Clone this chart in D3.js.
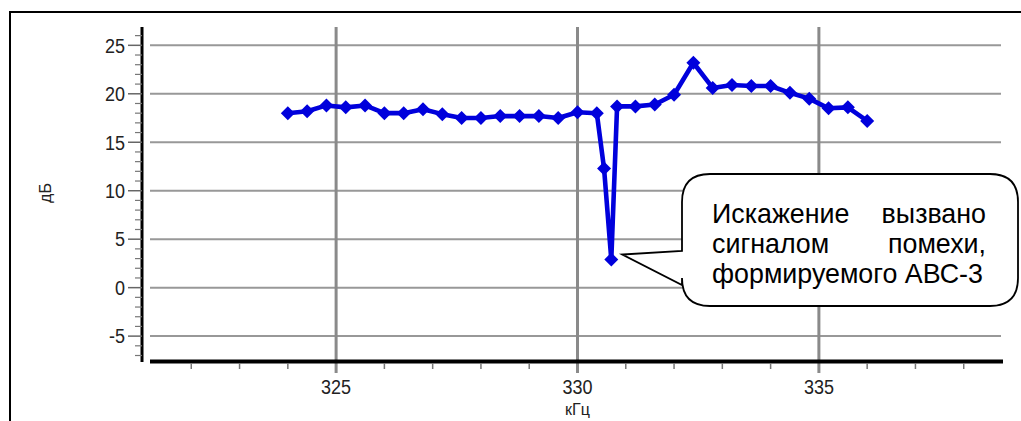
<!DOCTYPE html>
<html>
<head>
<meta charset="utf-8">
<script src="https://cdn.jsdelivr.net/npm/d3@7"></script>
<style>
  html, body { margin: 0; padding: 0; background: #ffffff; }
  svg { display: block; }
</style>
</head>
<body>
<svg id="chart" width="1021" height="421"></svg>
<script>
// ---- data ----
const freqKHz = [324.0, 324.4, 324.8, 325.2, 325.6, 326.0, 326.4, 326.8, 327.2, 327.6,
                 328.0, 328.4, 328.8, 329.2, 329.6, 330.0, 330.4, 330.55, 330.7, 330.82,
                 331.2, 331.6, 332.0, 332.4, 332.8, 333.2, 333.6, 334.0, 334.4, 334.8,
                 335.2, 335.6, 336.0];
const levelDb = [18.0, 18.2, 18.8, 18.6, 18.8, 18.0, 18.0, 18.4, 17.9, 17.5,
                 17.5, 17.7, 17.7, 17.7, 17.5, 18.1, 18.0, 12.3, 2.9, 18.7,
                 18.7, 18.9, 19.9, 23.2, 20.6, 20.9, 20.8, 20.8, 20.1, 19.5,
                 18.5, 18.6, 17.2];
const xMajorTicks = [325, 330, 335];
const xMinorTicks = [322, 323, 324, 326, 327, 328, 329, 331, 332, 333, 334, 336, 337, 338];
const yMajorTicks = [-5, 0, 5, 10, 15, 20, 25];
const yMinorTicks = [-7, -6, -4, -3, -2, -1, 1, 2, 3, 4, 6, 7, 8, 9, 11, 12, 13, 14, 16, 17, 18, 19, 21, 22, 23, 24, 26];
const xTitle = "кГц";
const yTitle = "дБ";
const calloutLines = [["Искажение", "вызвано"], ["сигналом", "помехи,"], ["формируемого АВС-3"]];
const calloutTarget = {f: 330.7, v: 2.9};

// ---- layout ----
const svg = d3.select("#chart");
const x = d3.scaleLinear().domain([321, 339]).range([143, 1012]);
const y = d3.scaleLinear().domain([-7.67, 26.89]).range([362, 27]);
const plotLeft = 150, plotRight = 1001, axisRight = 1003;
const axisX = 142, axisTop = 27, axisBottom = 362, xAxisY = 361.5;
const tickFont = "Liberation Sans, Arial, sans-serif";

// outer frame
svg.append("rect").attr("x", 10).attr("y", 12).attr("width", 1100).attr("height", 500)
  .attr("fill", "#ffffff").attr("stroke", "#000").attr("stroke-width", 2);

// horizontal gridlines
svg.append("g").selectAll("line").data(yMajorTicks).join("line")
  .attr("x1", plotLeft).attr("x2", plotRight)
  .attr("y1", d => y(d)).attr("y2", d => y(d))
  .attr("stroke", "#989898").attr("stroke-width", 2);

// vertical gridlines (extend below axis as major ticks)
svg.append("g").selectAll("line").data(xMajorTicks).join("line")
  .attr("x1", d => x(d)).attr("x2", d => x(d))
  .attr("y1", axisTop).attr("y2", 373)
  .attr("stroke", "#8a8a8a").attr("stroke-width", 3);

// y axis
svg.append("line").attr("x1", axisX).attr("x2", axisX).attr("y1", axisTop).attr("y2", axisBottom)
  .attr("stroke", "#000").attr("stroke-width", 3);
svg.append("g").selectAll("line").data(yMajorTicks).join("line")
  .attr("x1", 128).attr("x2", axisX).attr("y1", d => y(d)).attr("y2", d => y(d))
  .attr("stroke", "#666").attr("stroke-width", 1.5);
svg.append("g").selectAll("line").data(yMinorTicks).join("line")
  .attr("x1", 135).attr("x2", axisX).attr("y1", d => y(d)).attr("y2", d => y(d))
  .attr("stroke", "#777").attr("stroke-width", 1.2);
svg.append("g").selectAll("text").data(yMajorTicks).join("text")
  .attr("transform", d => `translate(125,${y(d)}) scale(1,1.12)`).attr("dy", "0.36em")
  .attr("text-anchor", "end").attr("font-family", tickFont).attr("font-size", 18)
  .attr("fill", "#222").text(d => d);

// x axis
svg.append("line").attr("x1", plotLeft).attr("x2", axisRight).attr("y1", xAxisY).attr("y2", xAxisY)
  .attr("stroke", "#000").attr("stroke-width", 4);
svg.append("g").selectAll("line").data(xMinorTicks).join("line")
  .attr("x1", d => x(d)).attr("x2", d => x(d)).attr("y1", 363).attr("y2", 369)
  .attr("stroke", "#777").attr("stroke-width", 1.5);
svg.append("g").selectAll("text").data(xMajorTicks).join("text")
  .attr("transform", d => `translate(${x(d)},387) scale(1,1.12)`).attr("dy", "0.36em")
  .attr("text-anchor", "middle").attr("font-family", tickFont).attr("font-size", 18)
  .attr("fill", "#222").text(d => d);

// axis titles
svg.append("text").attr("x", x(330)).attr("y", 409).attr("dy", "0.36em")
  .attr("text-anchor", "middle").attr("font-family", tickFont).attr("font-size", 16)
  .attr("fill", "#222").text(xTitle);
svg.append("text").attr("transform", "translate(45,193) rotate(-90)").attr("dy", "0.36em")
  .attr("text-anchor", "middle").attr("font-family", tickFont).attr("font-size", 16)
  .attr("fill", "#222").text(yTitle);

// data series
const pts = freqKHz.map((f, i) => ({f, v: levelDb[i]}));
const lineGen = d3.line().x(d => x(d.f)).y(d => y(d.v));
const blue = "#0000dc";
svg.append("path").datum(pts).attr("d", lineGen)
  .attr("fill", "none").attr("stroke", blue).attr("stroke-width", 4.6)
  .attr("stroke-linejoin", "round");
svg.append("g").selectAll("path").data(pts).join("path")
  .attr("transform", d => `translate(${x(d.f)},${y(d.v)})`)
  .attr("d", "M0,-7L7,0L0,7L-7,0Z")
  .attr("fill", blue);

// callout
const bx1 = 682, by1 = 174, bx2 = 1018, by2 = 306, r = 28;
const tipX = x(calloutTarget.f) + 11, tipY = y(calloutTarget.v) - 5;
const p1 = 251, p2 = 285;
const path = d3.path();
path.moveTo(bx1 + r, by1);
path.lineTo(bx2 - r, by1);
path.quadraticCurveTo(bx2, by1, bx2, by1 + r);
path.lineTo(bx2, by2 - r);
path.quadraticCurveTo(bx2, by2, bx2 - r, by2);
path.lineTo(bx1 + r, by2);
path.quadraticCurveTo(bx1, by2, bx1, by2 - r);
path.lineTo(bx1, p2);
path.lineTo(tipX, tipY);
path.lineTo(bx1, p1);
path.lineTo(bx1, by1 + r);
path.quadraticCurveTo(bx1, by1, bx1 + r, by1);
path.closePath();
svg.append("path").attr("d", path.toString())
  .attr("fill", "#fff").attr("stroke", "#000").attr("stroke-width", 1.8);

const textLeft = 712, textRight = 986, lineTop = 223, lineStep = 30;
const calloutFont = "Liberation Sans, Arial, sans-serif";
// size the font so the last (unjustified) line spans its measured width
const probe = svg.append("text").attr("font-family", calloutFont).attr("font-size", 20)
  .text(calloutLines[2].join(" "));
const w20 = probe.node().getComputedTextLength();
probe.remove();
const fs = 20 * 271 / w20;
calloutLines.forEach((words, i) => {
  const yy = lineTop + i * lineStep;
  svg.append("text").attr("x", textLeft).attr("y", yy).attr("font-family", calloutFont)
    .attr("font-size", fs).attr("fill", "#000").text(words[0]);
  if (words.length > 1) {
    svg.append("text").attr("x", textRight).attr("y", yy).attr("text-anchor", "end")
      .attr("font-family", calloutFont).attr("font-size", fs).attr("fill", "#000").text(words[1]);
  }
});
</script>
</body>
</html>
